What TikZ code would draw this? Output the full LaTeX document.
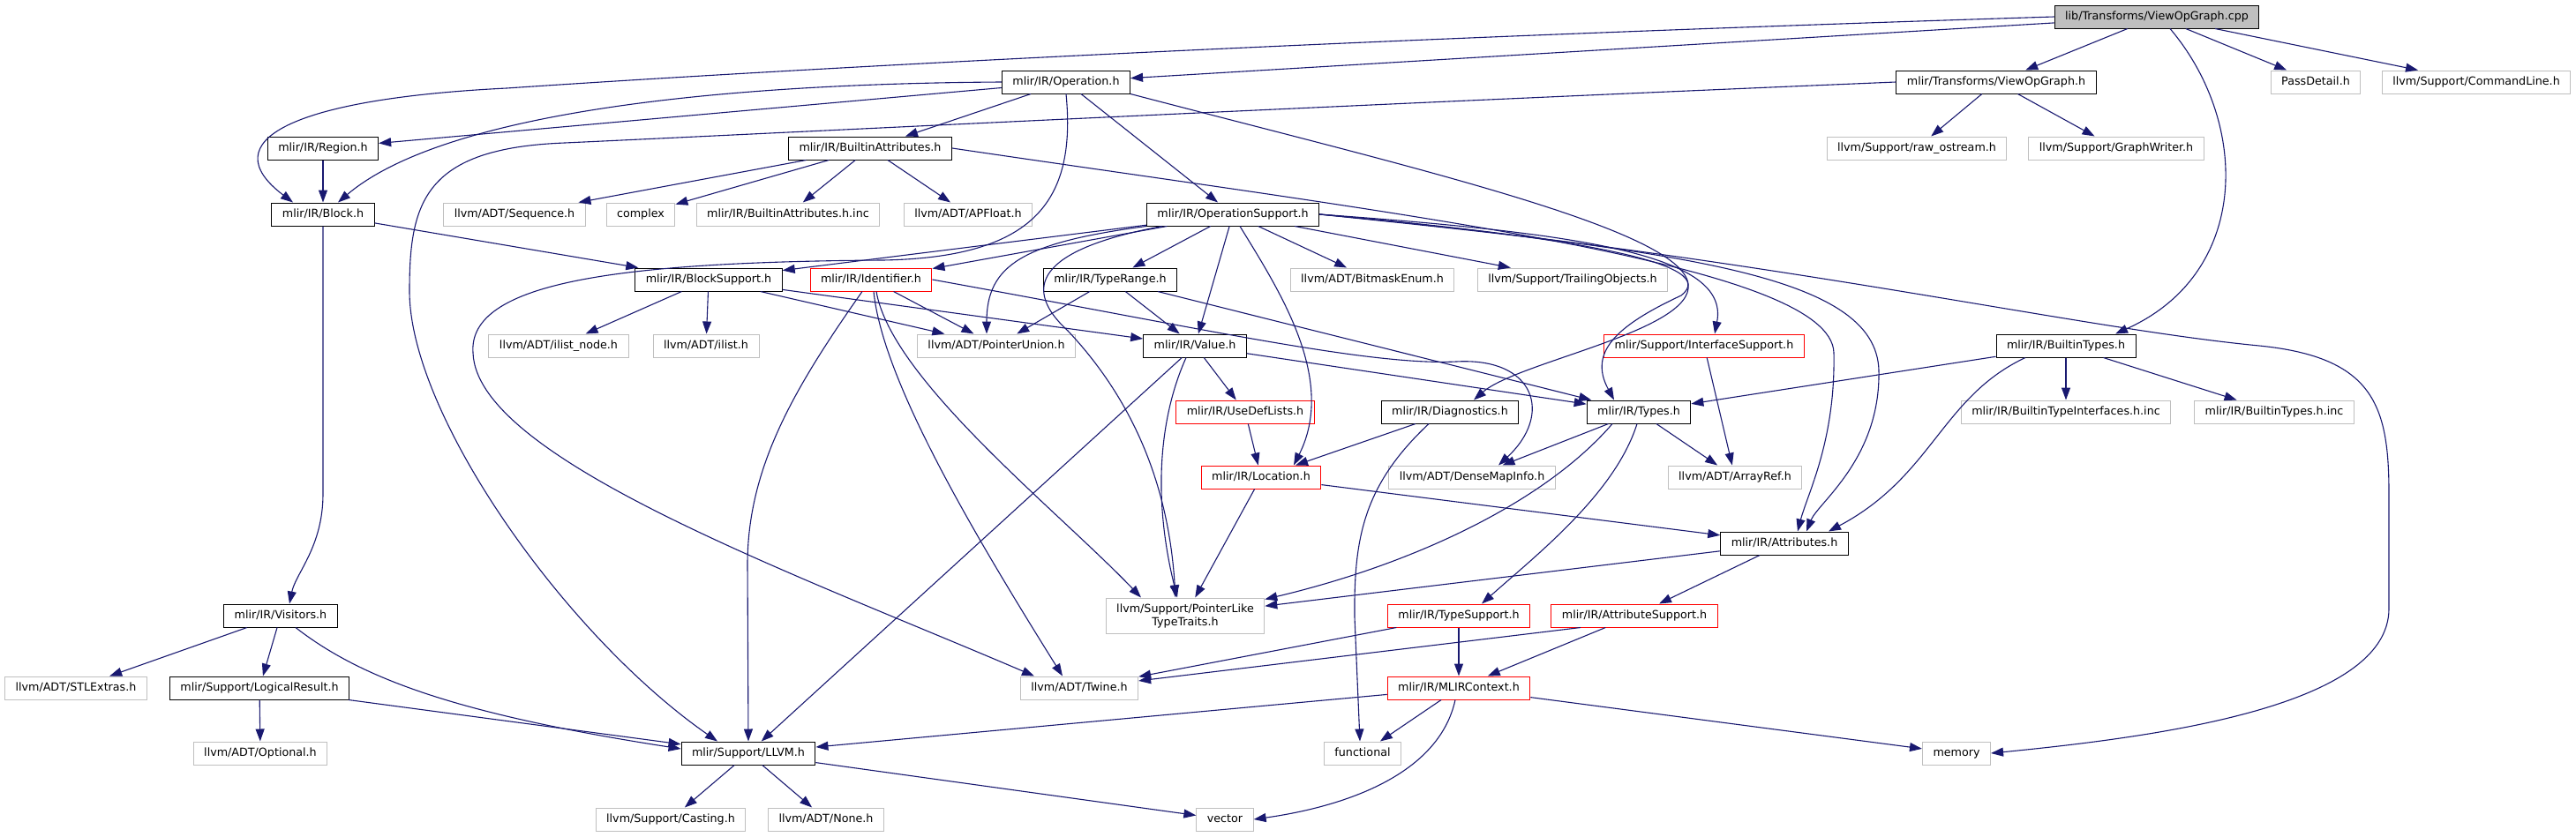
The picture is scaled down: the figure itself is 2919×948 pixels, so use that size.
\documentclass[tikz,border=0pt]{standalone}
\usepackage{fontspec}
\setmainfont{DejaVu Sans}
\usetikzlibrary{arrows.meta}
\definecolor{edgeblue}{RGB}{25,25,112}
\definecolor{extgray}{RGB}{191,191,191}

\begin{document}
\begin{tikzpicture}[x=1pt, y=-1pt,
  box/.style={font=\fontsize{12.7}{15}\selectfont, inner xsep=12pt, inner ysep=0pt, minimum height=26pt, line width=1pt, fill=white},
  oneline/.style={text height=9.5pt, text depth=2.6pt},
  hfile/.style={box, oneline, draw=black},
  extfile/.style={box, oneline, draw=extgray},
  cutfile/.style={box, oneline, draw=red},
  rootfile/.style={box, oneline, draw=black, fill=extgray},
  dep/.style={draw=edgeblue, line width=1.1pt, -{Triangle[length=14pt, width=10pt]}}]
  \useasboundingbox (0,0) rectangle (2919,948);

  % rows of the include graph
  \node[rootfile] (cpp) at (2444,19) {lib/Transforms/ViewOpGraph.cpp};

  \node[hfile] (operation) at (1208,93) {mlir/IR/Operation.h};
  \node[hfile] (vogh) at (2262,93) {mlir/Transforms/ViewOpGraph.h};
  \node[extfile] (passdetail) at (2624,93) {PassDetail.h};
  \node[extfile] (cmdline) at (2806,93) {llvm/Support/CommandLine.h};

  \node[hfile] (region) at (366,168) {mlir/IR/Region.h};
  \node[hfile] (battr) at (986,168) {mlir/IR/BuiltinAttributes.h};
  \node[extfile] (rawos) at (2172,168) {llvm/Support/raw\_ostream.h};
  \node[extfile] (graphw) at (2398,168) {llvm/Support/GraphWriter.h};

  \node[hfile] (block) at (366,243) {mlir/IR/Block.h};
  \node[extfile] (sequence) at (583,243) {llvm/ADT/Sequence.h};
  \node[extfile] (complex) at (726,243) {complex};
  \node[extfile] (battrinc) at (893,243) {mlir/IR/BuiltinAttributes.h.inc};
  \node[extfile] (apfloat) at (1097,243) {llvm/ADT/APFloat.h};
  \node[hfile] (opsupport) at (1397,243) {mlir/IR/OperationSupport.h};

  \node[hfile] (blocksupport) at (803,317) {mlir/IR/BlockSupport.h};
  \node[cutfile] (identifier) at (987,317) {mlir/IR/Identifier.h};
  \node[hfile] (typerange) at (1258,317) {mlir/IR/TypeRange.h};
  \node[extfile] (bitmask) at (1555,317) {llvm/ADT/BitmaskEnum.h};
  \node[extfile] (trailing) at (1782,317) {llvm/Support/TrailingObjects.h};

  \node[extfile] (ilistnode) at (633,392) {llvm/ADT/ilist\_node.h};
  \node[extfile] (ilist) at (800,392) {llvm/ADT/ilist.h};
  \node[extfile] (punion) at (1129,392) {llvm/ADT/PointerUnion.h};
  \node[hfile] (value) at (1354,392) {mlir/IR/Value.h};
  \node[cutfile] (ifsupport) at (1931,392) {mlir/Support/InterfaceSupport.h};
  \node[hfile] (btypes) at (2341,392) {mlir/IR/BuiltinTypes.h};

  \node[cutfile] (usedef) at (1411,467) {mlir/IR/UseDefLists.h};
  \node[hfile] (diag) at (1643,467) {mlir/IR/Diagnostics.h};
  \node[hfile] (types) at (1857,467) {mlir/IR/Types.h};
  \node[extfile] (btiinc) at (2341,467) {mlir/IR/BuiltinTypeInterfaces.h.inc};
  \node[extfile] (btinc) at (2577,467) {mlir/IR/BuiltinTypes.h.inc};

  \node[cutfile] (location) at (1429,541) {mlir/IR/Location.h};
  \node[extfile] (densemap) at (1668,541) {llvm/ADT/DenseMapInfo.h};
  \node[extfile] (arrayref) at (1966,541) {llvm/ADT/ArrayRef.h};

  \node[hfile] (attributes) at (2022,616) {mlir/IR/Attributes.h};

  \node[hfile] (visitors) at (318,698) {mlir/IR/Visitors.h};
  \node[box, draw=extgray, align=center, minimum height=40pt] (pltt) at (1343,698) {llvm/Support/PointerLike\\TypeTraits.h};
  \node[cutfile] (typesupport) at (1653,698) {mlir/IR/TypeSupport.h};
  \node[cutfile] (attrsupport) at (1852,698) {mlir/IR/AttributeSupport.h};

  \node[extfile] (stlextras) at (86,780) {llvm/ADT/STLExtras.h};
  \node[hfile] (logical) at (294,780) {mlir/Support/LogicalResult.h};
  \node[extfile] (twine) at (1223,780) {llvm/ADT/Twine.h};
  \node[cutfile] (mlirctx) at (1653,780) {mlir/IR/MLIRContext.h};

  \node[extfile] (optional) at (295,854) {llvm/ADT/Optional.h};
  \node[hfile] (llvm) at (848,854) {mlir/Support/LLVM.h};
  \node[extfile] (functional) at (1544,854) {functional};
  \node[extfile] (memory) at (2217,854) {memory};

  \node[extfile] (casting) at (760,929) {llvm/Support/Casting.h};
  \node[extfile] (none) at (936,929) {llvm/ADT/None.h};
  \node[extfile] (vector) at (1388,929) {vector};

  % straight includes
  \foreach \a/\b in {cpp/operation, cpp/vogh, cpp/passdetail, cpp/cmdline, vogh/rawos, vogh/graphw,
    operation/region, operation/battr, operation/opsupport, region/block,
    battr/sequence, battr/complex, battr/battrinc, battr/apfloat, block/blocksupport,
    opsupport/blocksupport, opsupport/identifier, opsupport/typerange, opsupport/value,
    opsupport/bitmask, opsupport/trailing, blocksupport/ilistnode, blocksupport/ilist,
    blocksupport/punion, blocksupport/value, identifier/punion, typerange/punion,
    typerange/value, typerange/types, value/usedef, value/types, value/llvm,
    usedef/location, diag/location, types/densemap, types/arrayref, ifsupport/arrayref,
    btypes/types, btypes/btiinc, btypes/btinc, location/attributes, location/pltt,
    attributes/pltt, attributes/attrsupport, visitors/stlextras, visitors/logical,
    logical/optional, logical/llvm, typesupport/twine, typesupport/mlirctx,
    attrsupport/mlirctx, mlirctx/llvm, mlirctx/functional, mlirctx/memory,
    llvm/casting, llvm/none, llvm/vector}
    \draw[dep] (\a) -- (\b);

  % curved includes
  \draw[dep] (cpp.west) .. controls (1500,45) and (900,78) .. (574,100) .. controls (330,112) and (240,160) .. ([xshift=-34pt]block.north);
  \draw[dep] ([xshift=15pt]cpp.south) .. controls (2550,140) and (2550,310) .. ([xshift=56pt]btypes.north);
  \draw[dep] (vogh.west) .. controls (1500,120) and (900,150) .. (640,162) .. controls (480,168) and (464,230) .. (464,330) .. controls (464,470) and (640,720) .. ([xshift=-35pt]llvm.north);
  \draw[dep] (operation.west) .. controls (800,95) and (500,130) .. ([xshift=17pt]block.north);
  \draw[dep] (operation.south east) .. controls (1600,190) and (1905,260) .. (1913,322) .. controls (1920,375) and (1720,410) .. ([xshift=27pt]diag.north);
  \draw[dep] (operation.south) .. controls (1220,230) and (1170,292) .. (1000,295) .. controls (700,297) and (530,320) .. (536,400) .. controls (540,520) and (900,650) .. ([xshift=-51pt]twine.north);
  \draw[dep] (battr.east) .. controls (1600,245) and (2075,300) .. (2078,400) .. controls (2080,500) and (2048,560) .. ([xshift=15pt]attributes.north);
  \draw[dep] (opsupport.east) .. controls (1900,285) and (2126,310) .. (2129,420) .. controls (2131,520) and (2060,570) .. ([xshift=25pt]attributes.north);
  \draw[dep] (opsupport.east) .. controls (2000,290) and (2350,372) .. (2560,392) .. controls (2690,405) and (2707,460) .. (2707,560) -- (2707,690) .. controls (2707,800) and (2450,835) .. (memory.east);
  \draw[dep] (opsupport.east) .. controls (1800,270) and (1950,300) .. (1905,335) .. controls (1830,370) and (1800,400) .. ([xshift=-28pt]types.north);
  \draw[dep] (opsupport.east) .. controls (1800,265) and (1960,290) .. ([xshift=12pt]ifsupport.north);
  \draw[dep] ([xshift=8pt]opsupport.south) .. controls (1450,330) and (1515,430) .. ([xshift=37pt]location.north);
  \draw[dep] (opsupport.south west) .. controls (1160,275) and (1118,300) .. ([xshift=-11pt]punion.north);
  \draw[dep] ([xshift=-80pt]opsupport.south) .. controls (1190,280) and (1150,320) .. (1210,375) .. controls (1290,460) and (1325,560) .. ([xshift=-11pt]pltt.north);
  \draw[dep] (identifier.east) .. controls (1350,370) and (1550,415) .. (1650,410) .. controls (1740,405) and (1760,470) .. ([xshift=30pt]densemap.north);
  \draw[dep] ([xshift=-10pt]identifier.south) .. controls (900,440) and (847,530) .. (847,640) -- (llvm.north);
  \draw[dep] ([xshift=3pt]identifier.south) .. controls (1000,430) and (1100,600) .. ([xshift=-19pt]twine.north);
  \draw[dep] ([xshift=6pt]identifier.south) .. controls (1010,430) and (1200,580) .. ([xshift=-50pt]pltt.north);
  \draw[dep] ([xshift=-10pt]value.south) .. controls (1315,470) and (1305,560) .. ([xshift=-9pt]pltt.north);
  \draw[dep] ([xshift=-24pt]diag.south) .. controls (1545,550) and (1534,610) .. (1535,700) -- ([xshift=-3pt]functional.north);
  \draw[dep] ([xshift=-30pt]types.south) .. controls (1750,570) and (1600,640) .. ([yshift=-2pt]pltt.north east);
  \draw[dep] ([xshift=-2pt]types.south) .. controls (1830,560) and (1740,630) .. ([xshift=26pt]typesupport.north);
  \draw[dep] ([xshift=-46pt]btypes.south) .. controls (2200,450) and (2190,540) .. ([xshift=50pt]attributes.north);
  \draw[dep] (block.south) -- (366,560) .. controls (366,620) and (335,650) .. ([xshift=10pt]visitors.north);
  \draw[dep] ([xshift=17pt]visitors.south) .. controls (410,770) and (520,810) .. ([yshift=5pt]llvm.west);
  \draw[dep] ([xshift=-61pt]attrsupport.south) -- (twine);
  \draw[dep] ([xshift=-4pt]mlirctx.south) .. controls (1630,880) and (1520,915) .. (vector.east);
\end{tikzpicture}
\end{document}
